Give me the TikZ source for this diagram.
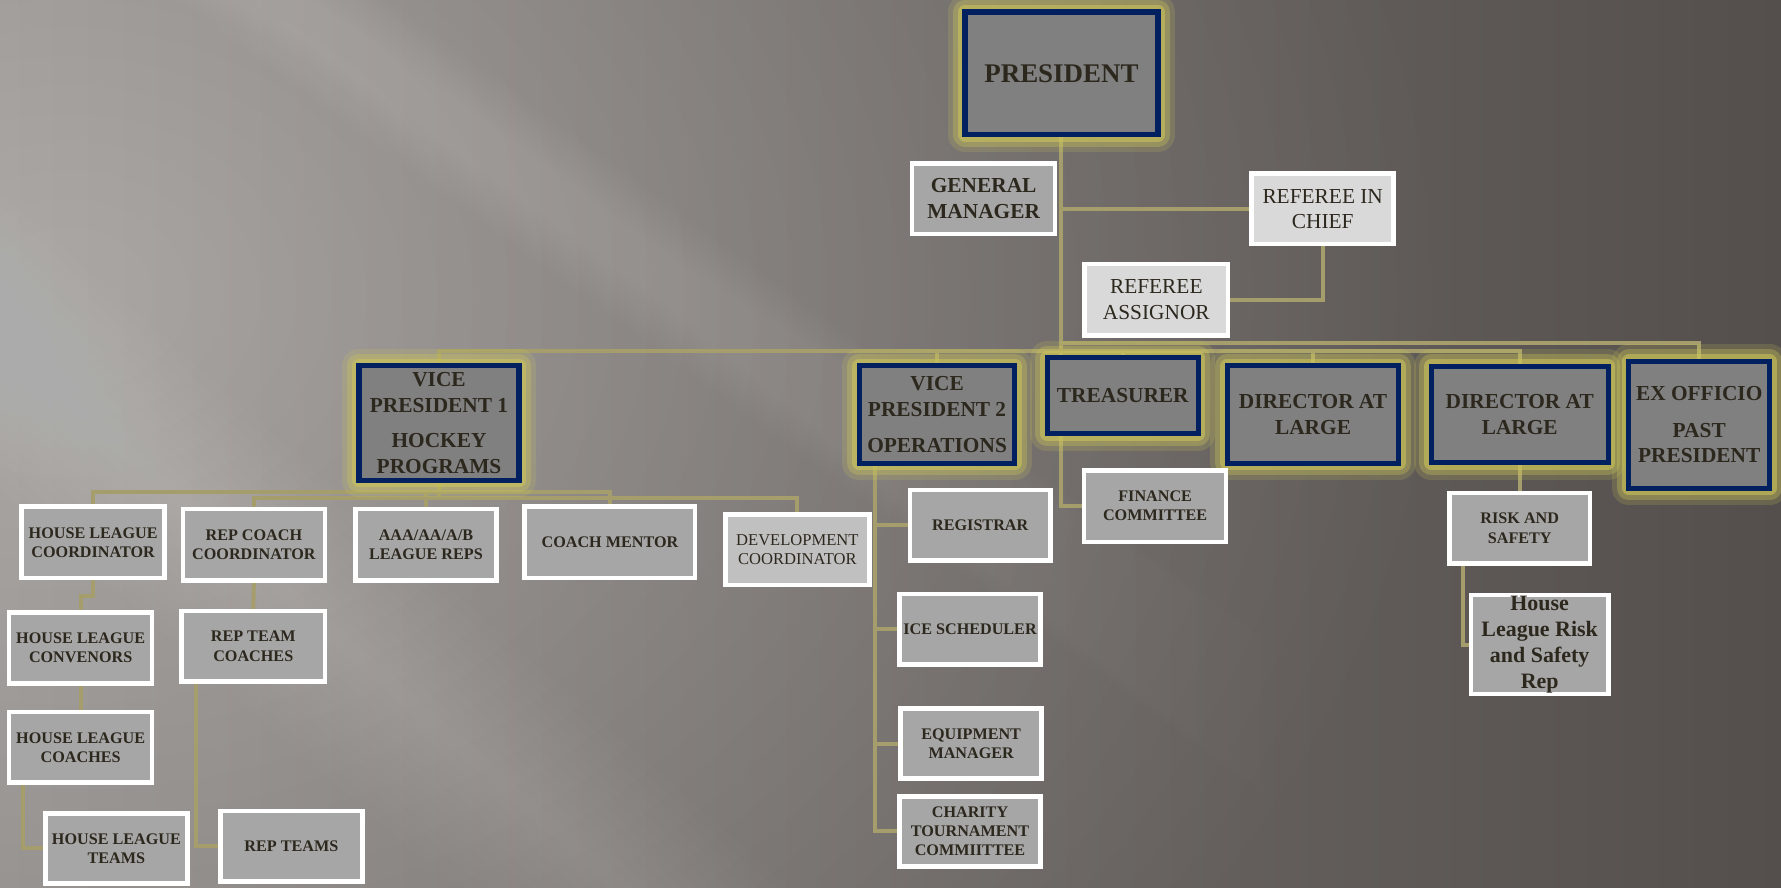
\documentclass[tikz,border=0pt]{standalone}
\usepackage{fontspec}
\setmainfont{Liberation Serif}
\usetikzlibrary{positioning, calc}
\definecolor{navy}{RGB}{0,32,96}
\definecolor{glowc}{RGB}{205,198,90}
\definecolor{linec}{RGB}{165,158,108}
\definecolor{txtc}{RGB}{45,40,30}
\definecolor{boxgray}{RGB}{166,166,166}
\definecolor{topgray}{RGB}{128,128,128}
\definecolor{refgray}{RGB}{217,217,217}
\definecolor{devgray}{RGB}{192,192,192}
\definecolor{bgleft}{RGB}{134,130,127}
\definecolor{bgright}{RGB}{84,79,76}
\pgfdeclarelayer{bg}
\pgfdeclarelayer{lines}
\pgfsetlayers{bg,lines,main}
\tikzset{
  topbox/.style={draw=navy, line width=2.6pt, fill=topgray, text=txtc, align=center, inner sep=0pt,
    font=\bfseries\fontsize{10.7}{12.9}\selectfont,
    preaction={draw=glowc, line width=17pt, opacity=0.18, line join=round},
    preaction={draw=glowc, line width=12pt, opacity=0.32, line join=round},
    preaction={draw=glowc, line width=7pt, opacity=0.55, line join=round}},
  subbox/.style={draw=white, line width=2.3pt, fill=boxgray, text=txtc, align=center, inner sep=0pt,
    minimum width=2.5cm, minimum height=1.24cm, font=\bfseries\fontsize{8.1}{9.6}\selectfont},
  midbox/.style={subbox, font=\bfseries\fontsize{10.7}{12.9}\selectfont},
  refbox/.style={subbox, fill=refgray, font=\fontsize{10.7}{12.9}\selectfont},
  wire/.style={draw=linec, line width=2pt},
}
\begin{document}
\begin{tikzpicture}[x=0.02cm, y=-0.02cm]
\useasboundingbox (0,0) rectangle (1568,781);
% background: grey gradient, soft light at the left and two rays
\begin{pgfonlayer}{bg}
  \shade[left color=bgleft, right color=bgright] (0,0) rectangle (1568,781);
  \foreach \r in {60,85,...,960}
    \fill[white, opacity=0.013] (60,260) ellipse ({1.25*\r} and \r);
  \foreach \k in {1,...,10} {
    \pgfmathsetmacro{\h}{18+5*\k}
    \pgfmathsetmacro{\e}{560+55*\k}
    \pgfmathsetmacro{\f}{-255+0.73*(\e+100)}
    \fill[white, opacity=0.012] (-100,-255-\h) -- (\e,\f-\h) -- (\e,\f+\h) -- (-100,-255+\h) -- cycle;
  }
  \foreach \h in {10,22,...,130}
    \fill[white, opacity=0.012] (-100,212-\h) -- (750,960-\h) -- (750,960+\h) -- (-100,212+\h) -- cycle;
\end{pgfonlayer}

% top
\node[topbox, minimum width=3.4cm, minimum height=2.16cm, font=\bfseries\fontsize{13.5}{16}\selectfont] (pres) at (934.5,64.5) {PRESIDENT};
\node[midbox, minimum width=2.52cm] (gm) at (866,175) {GENERAL\\MANAGER};
\node[refbox] (ric) at (1164.5,184) {REFEREE IN\\CHIEF};
\node[refbox, minimum width=2.52cm, minimum height=1.26cm] (ra) at (1018,264) {REFEREE\\ASSIGNOR};

% board
\node[topbox, minimum width=2.82cm, minimum height=2.02cm] (vpa) at (386.5,372.5) {VICE\\PRESIDENT 1\\[4.7pt]HOCKEY\\PROGRAMS};
\node[topbox, minimum width=2.74cm, minimum height=1.72cm] (vpb) at (825,365) {VICE\\PRESIDENT 2\\[5pt]OPERATIONS};
\node[topbox, minimum width=2.66cm, minimum height=1.34cm] (treas) at (988.5,348.5) {TREASURER};
\node[topbox, minimum width=3.02cm, minimum height=1.72cm] (dala) at (1156,365) {DIRECTOR AT\\LARGE};
\node[topbox, minimum width=3.12cm, minimum height=1.70cm] (dalb) at (1338,365) {DIRECTOR AT\\LARGE};
\node[topbox, minimum width=2.48cm, minimum height=2.24cm] (exoff) at (1496,374) {EX OFFICIO\\[5.3pt]PAST\\PRESIDENT};

% hockey programs
\node[subbox, minimum width=2.52cm, minimum height=1.26cm] (hlc) at (82,477.5) {HOUSE LEAGUE\\COORDINATOR};
\node[subbox, minimum height=1.26cm] (rcc) at (223.5,479.5) {REP COACH\\COORDINATOR};
\node[subbox, minimum width=2.48cm, minimum height=1.26cm] (aaa) at (375,479.5) {AAA/AA/A/B\\LEAGUE REPS};
\node[subbox, minimum width=3cm, minimum height=1.26cm] (cm) at (537,477.5) {COACH MENTOR};
\node[subbox, minimum width=2.54cm, fill=devgray, font=\fontsize{8.3}{9.8}\selectfont] (dev) at (702,484) {DEVELOPMENT\\COORDINATOR};
\node[subbox, minimum width=2.52cm, minimum height=1.26cm] (hlconv) at (71,570.5) {HOUSE LEAGUE\\CONVENORS};
\node[subbox, minimum width=2.52cm] (hlcoach) at (71,658) {HOUSE LEAGUE\\COACHES};
\node[subbox] (hlteams) at (102.5,747) {HOUSE LEAGUE\\TEAMS};
\node[subbox, minimum width=2.52cm] (rtc) at (223,569) {REP TEAM\\COACHES};
\node[subbox] (rteams) at (256.5,745) {REP TEAMS};

% operations
\node[subbox, minimum width=2.48cm] (reg) at (863,462.5) {REGISTRAR};
\node[subbox, minimum width=2.48cm] (ice) at (854,554) {ICE SCHEDULER};
\node[subbox, minimum width=2.48cm] (equip) at (855,654.6) {EQUIPMENT\\MANAGER};
\node[subbox, minimum width=2.48cm] (charity) at (854,732) {CHARITY\\TOURNAMENT\\COMMIITTEE};
\node[subbox, minimum height=1.26cm] (fin) at (1017,445.5) {FINANCE\\COMMITTEE};
\node[subbox, minimum width=2.48cm] (rs) at (1338,465) {RISK AND\\SAFETY};
\node[subbox, minimum width=2.42cm, minimum height=1.74cm, font=\bfseries\fontsize{11}{12.9}\selectfont] (hlrs) at (1355.5,567.5) {House\\League Risk\\and Safety\\Rep};

% connectors
\begin{pgfonlayer}{lines}
  \draw[wire] (pres.south) |- (fin.west);
  \draw[wire] (pres.south) |- (ric.west);
  \draw[wire] (ric.south) |- (ra.east);
  \coordinate (busa) at (0,309);
  \coordinate (busb) at (0,302);
  \draw[wire] (vpa.north) |- (busa -| dalb.north) -- (dalb.north);
  \foreach \n in {vpb,treas,dala}
    \draw[wire] (\n.north |- busa) -- (\n.north);
  \draw[wire] (pres.south |- busb) -| (exoff.north);
  \coordinate (vpaj) at ($(vpa.south)+(0,8)$);
  \coordinate (vpak) at ($(vpa.south)+(0,13)$);
  \foreach \n in {hlc,aaa,cm}
    \draw[wire] (vpa.south) -- (vpaj) -| (\n.north);
  \foreach \n in {rcc,dev}
    \draw[wire] (vpa.south) -- (vpak) -| (\n.north);
  \draw[wire] (hlc.south) -- ++(0,14) -| (hlconv.north);
  \draw[wire] (hlconv.south) -- (hlcoach.north);
  \draw[wire] ([xshift=0.29cm]hlcoach.south west) |- (hlteams.west);
  \draw[wire] (rcc.south) -- (rtc.north);
  \draw[wire] ([xshift=0.29cm]rtc.south west) |- (rteams.west);
  \foreach \n in {reg,ice,equip,charity}
    \draw[wire] ([xshift=0.32cm]vpb.south west) |- (\n.west);
  \draw[wire] (dalb.south) -- (rs.north);
  \draw[wire] ([xshift=0.28cm]rs.south west) |- (hlrs.west);
\end{pgfonlayer}
\end{tikzpicture}
\end{document}
